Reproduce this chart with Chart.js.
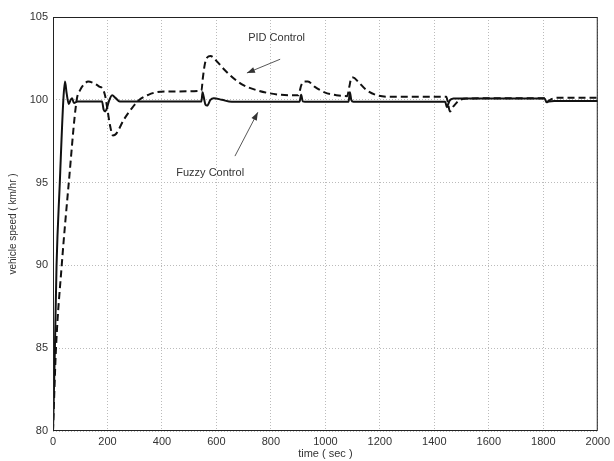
<!DOCTYPE html>
<html>
<head>
<meta charset="utf-8">
<script src="https://cdn.jsdelivr.net/npm/chart.js@4/dist/chart.umd.min.js"></script>
<style>
  html, body { margin: 0; padding: 0; background: #fff; }
  #wrap { width: 614px; height: 461px; }
</style>
</head>
<body>
<div id="wrap"><canvas id="speed-chart" width="614" height="461"></canvas></div>
<script>
// values
const fuzzyTime = [0, 7, 13, 25, 38, 44, 50, 58, 65, 70, 77, 90, 180, 186, 192, 198, 205, 217, 230, 245,
    545, 549, 553, 560, 566, 578, 590, 620, 656, 700, 905, 911, 917, 925, 1085, 1090, 1095, 1103,
    1440, 1446, 1450, 1456, 1470, 1805, 1812, 1820, 1840, 2000];
const fuzzyValues = [80, 85, 90, 95, 100, 101.1, 100.4, 99.75, 100.0, 100.1, 99.8, 99.9, 99.9, 99.4, 99.3, 99.5, 99.9, 100.27, 100.1, 99.9,
    99.9, 100.45, 100.2, 99.7, 99.65, 100.0, 100.1, 100.0, 99.88, 99.88, 99.88, 100.3, 99.9, 99.88, 99.88, 100.45, 100.0, 99.88,
    99.88, 99.55, 99.7, 99.95, 100.08, 100.08, 99.85, 99.9, 99.93, 99.93];

const pidTime = [0, 11, 32, 58, 87, 100, 115, 129, 150, 170, 183, 192, 200, 210, 220, 232, 260, 290, 317, 350, 378, 420,
    545, 550, 558, 566, 578, 600, 633, 692, 754, 838, 900, 912, 922, 936, 960, 997, 1040, 1080, 1088, 1095, 1102,
    1120, 1150, 1191, 1250, 1444, 1450, 1457, 1470, 1490, 1520, 1805, 1812, 1825, 1850, 2000];
const pidValues = [80, 85, 90, 95, 100, 100.6, 100.95, 101.1, 101.0, 100.8, 100.65, 100.2, 99.4, 98.4, 97.85, 97.95, 98.8, 99.5, 100.0, 100.3, 100.45, 100.5,
    100.55, 101.3, 102.2, 102.55, 102.65, 102.35, 101.75, 100.95, 100.55, 100.3, 100.27, 100.9, 101.1, 101.1, 100.8, 100.45, 100.28, 100.22, 100.8, 101.3, 101.35,
    101.1, 100.6, 100.27, 100.18, 100.18, 99.8, 99.3, 99.6, 99.95, 100.08, 100.1, 99.88, 100.0, 100.13, 100.13];

const xTicks = [0, 200, 400, 600, 800, 1000, 1200, 1400, 1600, 1800, 2000];
const yTicks = [80, 85, 90, 95, 100, 105];

// text labels with arrows, in data units
const notes = [
    { text: 'PID Control', at: [821, 103.72], from: [834, 102.45], to: [712, 101.62] },
    { text: 'Fuzzy Control', at: [577, 95.6], from: [668, 96.6], to: [752, 99.25] }
];

const toPoints = (ts, vs) => ts.map((t, i) => ({ x: t, y: vs[i] }));

const frameAndNotes = {
    id: 'frameAndNotes',
    afterDatasetsDraw(chart) {
        const { ctx, chartArea: a, scales: { x, y } } = chart;
        ctx.save();
        ctx.strokeStyle = '#222';
        ctx.lineWidth = 1;
        ctx.strokeRect(a.left + 0.5, a.top + 0.5, a.right - a.left - 1, a.bottom - a.top - 1);

        ctx.font = '11px "Liberation Sans", Arial, sans-serif';
        ctx.textAlign = 'center';
        ctx.textBaseline = 'middle';
        notes.forEach(n => {
            ctx.fillStyle = '#333';
            ctx.fillText(n.text, x.getPixelForValue(n.at[0]), y.getPixelForValue(n.at[1]));
            const x1 = x.getPixelForValue(n.from[0]), y1 = y.getPixelForValue(n.from[1]);
            const x2 = x.getPixelForValue(n.to[0]), y2 = y.getPixelForValue(n.to[1]);
            ctx.strokeStyle = '#444';
            ctx.lineWidth = 0.9;
            ctx.beginPath();
            ctx.moveTo(x1, y1);
            ctx.lineTo(x2, y2);
            ctx.stroke();
            const ang = Math.atan2(y2 - y1, x2 - x1);
            const len = 8, half = 3;
            ctx.beginPath();
            ctx.moveTo(x2, y2);
            ctx.lineTo(x2 - len * Math.cos(ang) + half * Math.sin(ang), y2 - len * Math.sin(ang) - half * Math.cos(ang));
            ctx.lineTo(x2 - len * Math.cos(ang) - half * Math.sin(ang), y2 - len * Math.sin(ang) + half * Math.cos(ang));
            ctx.closePath();
            ctx.fill();
        });
        ctx.restore();
    }
};

const tickFont = { family: '"Liberation Sans", Arial, sans-serif', size: 11 };

new Chart(document.getElementById('speed-chart').getContext('2d'), {
    type: 'line',
    data: {
        datasets: [
            {
                label: 'Fuzzy Control',
                data: toPoints(fuzzyTime, fuzzyValues),
                borderColor: '#111',
                borderWidth: 2,
                pointRadius: 0,
                cubicInterpolationMode: 'monotone',
                fill: false
            },
            {
                label: 'PID Control',
                data: toPoints(pidTime, pidValues),
                borderColor: '#111',
                borderWidth: 2,
                borderDash: [7, 4],
                pointRadius: 0,
                cubicInterpolationMode: 'monotone',
                fill: false
            }
        ]
    },
    options: {
        responsive: false,
        animation: false,
        layout: { padding: { top: 17, right: 12, left: 0, bottom: 0 } },
        plugins: {
            legend: { display: false },
            tooltip: { enabled: false }
        },
        scales: {
            x: {
                type: 'linear',
                min: 0,
                max: 2000,
                afterBuildTicks: s => { s.ticks = xTicks.map(v => ({ value: v })); },
                afterFit: s => { s.height = 30; },
                grid: { color: '#bbb', drawTicks: false },
                border: { display: false, dash: [1, 2] },
                ticks: { font: tickFont, color: '#333', padding: 4, maxRotation: 0, callback: v => String(v) },
                title: {
                    display: true,
                    text: 'time ( sec )',
                    font: tickFont,
                    color: '#333',
                    padding: { top: 0, bottom: 0 }
                }
            },
            y: {
                min: 80,
                max: 105,
                afterBuildTicks: s => { s.ticks = yTicks.map(v => ({ value: v })); },
                afterFit: s => { s.width = 53; },
                grid: { color: '#bbb', drawTicks: false },
                border: { display: false, dash: [1, 2] },
                ticks: { font: tickFont, color: '#333', padding: 5, callback: v => String(v) },
                title: {
                    display: true,
                    text: 'vehicle speed ( km/hr )',
                    font: { family: '"Liberation Sans", Arial, sans-serif', size: 10 },
                    color: '#333',
                    padding: { top: 7, bottom: 0 }
                }
            }
        }
    },
    plugins: [frameAndNotes]
});
</script>
</body>
</html>
